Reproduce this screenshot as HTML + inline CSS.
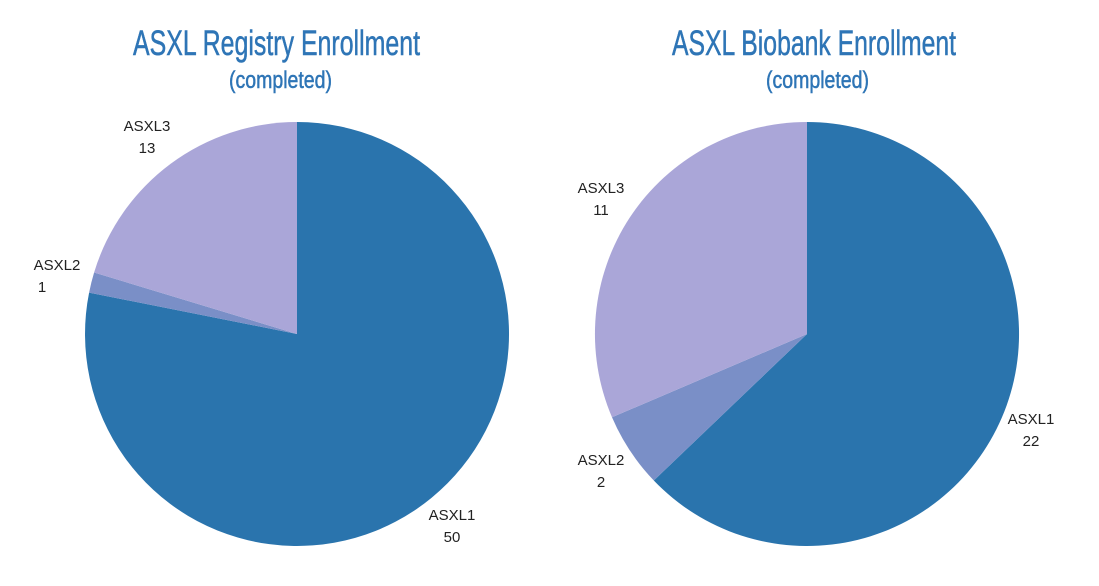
<!DOCTYPE html>
<html><head><meta charset="utf-8"><style>
html,body{margin:0;padding:0;background:#fff;}
</style></head><body>
<svg width="1099" height="581" viewBox="0 0 1099 581" xmlns="http://www.w3.org/2000/svg">
<rect width="1099" height="581" fill="#fff"/>
<g font-family="'Liberation Sans Narrow','Liberation Sans',sans-serif" fill="#2e75b6" stroke="#2e75b6" stroke-width="0.5">
<text x="133" y="55" font-size="35" textLength="287" lengthAdjust="spacingAndGlyphs">ASXL Registry Enrollment</text>
<text x="229" y="88" font-size="24" textLength="103" lengthAdjust="spacingAndGlyphs">(completed)</text>
<text x="672" y="55" font-size="35" textLength="284" lengthAdjust="spacingAndGlyphs">ASXL Biobank Enrollment</text>
<text x="766" y="88" font-size="24" textLength="103" lengthAdjust="spacingAndGlyphs">(completed)</text>
</g>
<!-- left pie -->
<path d="M297,334 L297,122 A212,212 0 1 1 89.1,292.6 Z" fill="#2a74ad"/>
<path d="M297,334 L89.1,292.6 A212,212 0 0 1 94.1,272.5 Z" fill="#7a8fc7"/>
<path d="M297,334 L94.1,272.5 A212,212 0 0 1 297,122 Z" fill="#aaa6d8"/>
<!-- right pie -->
<path d="M807,334 L807,122 A212,212 0 1 1 653.8,480.5 Z" fill="#2a74ad"/>
<path d="M807,334 L653.8,480.5 A212,212 0 0 1 612,417.3 Z" fill="#7a8fc7"/>
<path d="M807,334 L612,417.3 A212,212 0 0 1 807,122 Z" fill="#aaa6d8"/>
<g font-family="'Liberation Sans',sans-serif" font-size="15" fill="#222" text-anchor="middle">
<text x="147" y="131">ASXL3</text><text x="147" y="153">13</text>
<text x="57" y="270">ASXL2</text><text x="42" y="292">1</text>
<text x="452" y="520">ASXL1</text><text x="452" y="542">50</text>
<text x="601" y="193">ASXL3</text><text x="601" y="215">11</text>
<text x="601" y="465">ASXL2</text><text x="601" y="487">2</text>
<text x="1031" y="424">ASXL1</text><text x="1031" y="446">22</text>
</g>
</svg>
</body></html>
